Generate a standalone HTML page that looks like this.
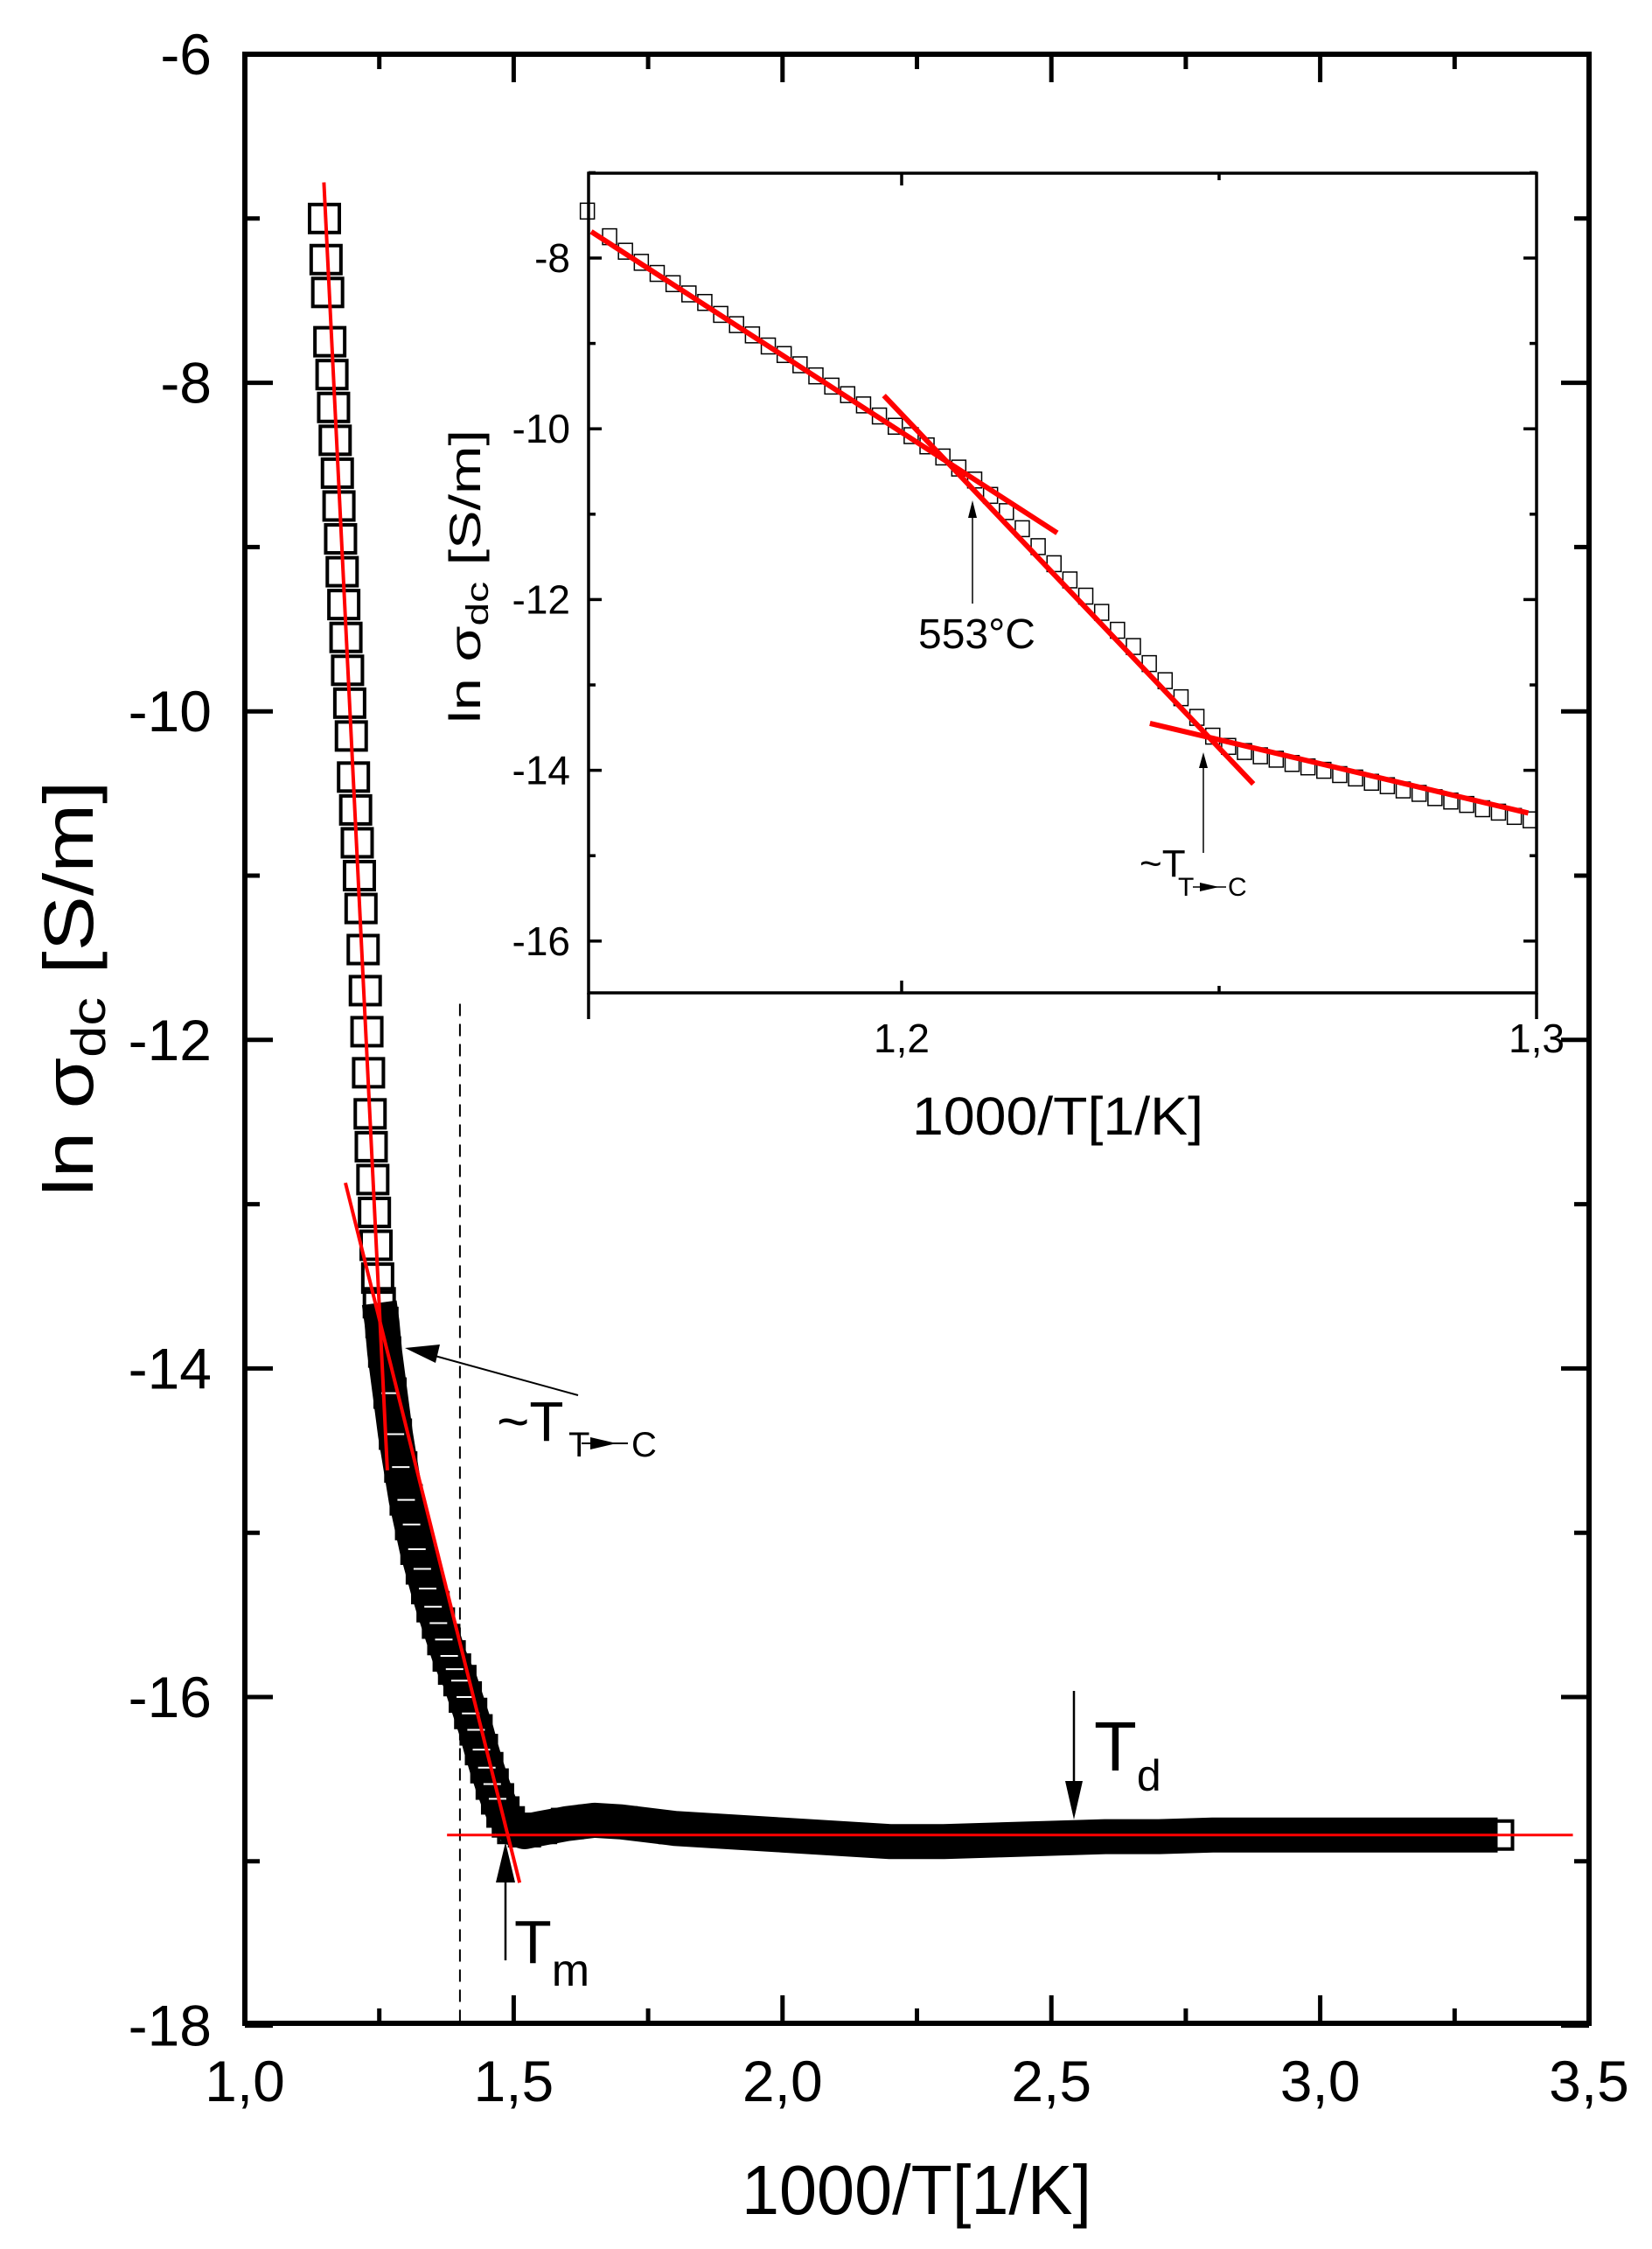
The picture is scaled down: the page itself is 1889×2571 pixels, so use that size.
<!DOCTYPE html>
<html><head><meta charset="utf-8"><style>
html,body{margin:0;padding:0;background:#fff}
svg{display:block;font-family:"Liberation Sans",Arial,sans-serif}
</style></head><body>
<svg id="chart" width="1889" height="2571" viewBox="0 0 1889 2571" xmlns="http://www.w3.org/2000/svg">
<rect width="1889" height="2571" fill="#fff"/>
<g id="main-marks"></g>
<g id="main-axes"></g>
<g id="inset"></g>
<g id="annot"></g>
</svg>
<script>
// ---- main chart data ----
const mainX = [1.148,1.151,1.154,1.158,1.162,1.165,1.168,1.172,1.175,1.178,1.181,1.184,1.188,1.191,1.195,1.198,1.202,1.206,1.209,1.213,1.216,1.220,1.224,1.227,1.230,1.233,1.235,1.238,1.241,1.244,1.247,1.250,
1.255,1.26,1.27,1.28,1.29,1.30,1.31,1.32,1.33,1.34,1.35,1.36,1.37,1.38,1.39,1.40,1.41,1.42,1.43,1.44,1.45,1.46,1.47,1.48,1.49,1.50,1.52,1.55,1.6,1.65,1.7,1.8,1.9,2.0,2.1,2.2,2.3,2.4,2.5,2.6,2.7,2.8,2.9,3.0,3.1,3.2,3.33];
const mainY = [-7.0,-7.25,-7.45,-7.75,-7.95,-8.15,-8.35,-8.55,-8.75,-8.95,-9.15,-9.35,-9.55,-9.75,-9.95,-10.15,-10.4,-10.6,-10.8,-11.0,-11.2,-11.45,-11.7,-11.95,-12.2,-12.45,-12.65,-12.85,-13.05,-13.25,-13.45,-13.6,
-13.72,-13.9,-14.15,-14.4,-14.6,-14.8,-14.95,-15.1,-15.22,-15.34,-15.45,-15.55,-15.65,-15.75,-15.83,-15.9,-16.0,-16.1,-16.2,-16.32,-16.43,-16.53,-16.62,-16.7,-16.76,-16.8,-16.82,-16.8,-16.77,-16.75,-16.76,-16.8,-16.82,-16.84,-16.86,-16.88,-16.88,-16.87,-16.86,-16.85,-16.85,-16.84,-16.84,-16.84,-16.84,-16.84,-16.84];
const denseFrom = 1.25;
const fitSteepX = [1.147,1.265], fitSteepY = [-6.78,-14.62];
const fitMidX = [1.187,1.511], fitMidY = [-12.87,-17.13];
const fitFlatX = [1.376,3.47], fitFlatY = [-16.84,-16.84];
const xTicks = [1.0,1.5,2.0,2.5,3.0,3.5];
const xTickLabels = ["1,0","1,5","2,0","2,5","3,0","3,5"];
const yTicks = [-6,-8,-10,-12,-14,-16,-18];
const yTickLabels = ["-6","-8","-10","-12","-14","-16","-18"];
// ---- inset data ----
const insX = [1.1505,1.1540,1.1565,1.1590,1.1615,1.1640,1.1665,1.1690,1.1715,1.1740,1.1765,1.1790,1.1815,1.1840,1.1865,1.1890,1.1915,1.1940,1.1965,1.1990,1.2015,1.2040,1.2065,1.2090,1.2115,1.2140,1.2165,1.2190,1.2215,1.2240,1.2265,1.2290,1.2315,1.2340,1.2365,1.2390,1.2415,1.2440,1.2465,1.2490,1.2515,1.2540,1.2565,1.2590,1.2615,1.2640,1.2665,1.2690,1.2715,1.2740,1.2765,1.2790,1.2815,1.2840,1.2865,1.2890,1.2915,1.2940,1.2965,1.2990];
const insY = [-7.45,-7.75,-7.92,-8.05,-8.18,-8.30,-8.42,-8.52,-8.66,-8.78,-8.90,-9.03,-9.13,-9.25,-9.38,-9.50,-9.60,-9.72,-9.85,-9.97,-10.08,-10.20,-10.33,-10.46,-10.60,-10.78,-10.97,-11.17,-11.38,-11.58,-11.77,-11.96,-12.15,-12.36,-12.55,-12.75,-12.95,-13.15,-13.38,-13.60,-13.72,-13.78,-13.83,-13.87,-13.92,-13.96,-14.00,-14.05,-14.09,-14.14,-14.18,-14.23,-14.27,-14.32,-14.36,-14.40,-14.45,-14.49,-14.54,-14.58];
const insFit1X = [1.1511,1.2245], insFit1Y = [-7.69,-11.22];
const insFit2X = [1.1972,1.2554], insFit2Y = [-9.61,-14.16];
const insFit3X = [1.2391,1.2987], insFit3Y = [-13.45,-14.5];
const insYTicks = [-8,-10,-12,-14,-16];
const insYTickLabels = ["-8","-10","-12","-14","-16"];
const insXTicks = [1.2,1.3];
const insXTickLabels = ["1,2","1,3"];

const NS="http://www.w3.org/2000/svg";
function mk(tag, attrs, parent){const e=document.createElementNS(NS,tag);for(const k in attrs)e.setAttribute(k,attrs[k]);parent.appendChild(e);return e;}
const X = x => 280 + 614.8*(x-1);
const Y = y => 62 + 187.8*(-6-y);
const IX = x => 1031 + 7260*(x-1.2);
const IY = y => 295 + 97.6*(-8-y);

const gm = document.getElementById('main-marks');
const ga = document.getElementById('main-axes');
const gi = document.getElementById('inset');
const gn = document.getElementById('annot');

let dl = mk('line',{x1:X(1.4),y1:Y(-11.78),x2:X(1.4),y2:2313,stroke:'#000','stroke-width':2,'stroke-dasharray':'14,9'},gm);



let pts=[];
for(let i=0;i<mainX.length;i++){ if(mainX[i]>=denseFrom) pts.push(X(mainX[i])+','+Y(mainY[i])); }
let band = mk('polyline',{points:pts.join(' '),fill:'none',stroke:'#000','stroke-width':40,'stroke-linejoin':'round'},gm);


for(let i=0;i<mainX.length;i++){
  const r = mk('rect',{x:X(mainX[i])-17,y:Y(mainY[i])-16,width:34,height:32,fill:'none',stroke:'#000','stroke-width':4},gm);
  
  
}
for(let i=0;i<mainX.length;i++){
  if(mainX[i]>=1.27 && mainX[i]<=1.47){
    const h = mk('line',{x1:X(mainX[i])-10,y1:Y(mainY[i]),x2:X(mainX[i])+10,y2:Y(mainY[i]),stroke:'#fff','stroke-width':2},gm);
    
    
  }
}
function fit(xs,ys,w,name,S,SY,par){
  const l = mk('line',{x1:S(xs[0]),y1:SY(ys[0]),x2:S(xs[1]),y2:SY(ys[1]),stroke:'#f00','stroke-width':w},par);
  
  
}
fit(fitSteepX,fitSteepY,4,'fit-line-steep',X,Y,gm);
fit(fitMidX,fitMidY,4,'fit-line-middle',X,Y,gm);
fit(fitFlatX,fitFlatY,3,'fit-line-flat',X,Y,gm);

let fr = mk('rect',{x:280,y:62,width:1537,height:2251,fill:'none',stroke:'#000','stroke-width':6},ga);


for(let v=1.0; v<=3.501; v+=0.25){
  const major = Math.abs(v*2-Math.round(v*2))<1e-6;
  const L = major?32:17;
  const t1 = mk('line',{x1:X(v),y1:2313,x2:X(v),y2:2313-L,stroke:'#000','stroke-width':5},ga);
  
  
  const t2 = mk('line',{x1:X(v),y1:62,x2:X(v),y2:62+L,stroke:'#000','stroke-width':5},ga);
  
  
}
for(let v=-6; v>=-18; v-=1){
  const L = (v%2===0)?32:17;
  const t1 = mk('line',{x1:280,y1:Y(v),x2:280+L,y2:Y(v),stroke:'#000','stroke-width':5},ga);
  
  
  const t2 = mk('line',{x1:1817,y1:Y(v),x2:1817-L,y2:Y(v),stroke:'#000','stroke-width':5},ga);
  
  
}
xTicks.forEach((v,i)=>{
  const t = mk('text',{x:X(v),y:2402,'font-size':66,'text-anchor':'middle'},ga);
  t.textContent = xTickLabels[i];
  
  
});
yTicks.forEach((v,i)=>{
  const t = mk('text',{x:242,y:Y(v)+23,'font-size':66,'text-anchor':'end'},ga);
  t.textContent = yTickLabels[i];
  
  
});

const ib = mk('rect',{x:673,y:198,width:1084,height:937,fill:'#fff',stroke:'none'},gi);


for(let i=0;i<insX.length;i++){
  const r = mk('rect',{x:IX(insX[i])-8,y:IY(insY[i])-9,width:16,height:18,fill:'none',stroke:'#000','stroke-width':1.5},gi);
  
  
}
fit(insFit1X,insFit1Y,6,'inset-fit-line-1',IX,IY,gi);
fit(insFit2X,insFit2Y,6,'inset-fit-line-2',IX,IY,gi);
fit(insFit3X,insFit3Y,6,'inset-fit-line-3',IX,IY,gi);
const ifr = mk('rect',{x:673,y:198,width:1084,height:937,fill:'none',stroke:'#000','stroke-width':3.5},gi);


for(let v=-7; v>=-16; v-=1){
  const L = (v%2===0)?15:8;
  const a = mk('line',{x1:673,y1:IY(v),x2:673+L,y2:IY(v),stroke:'#000','stroke-width':3.5},gi);
  
  
  const b = mk('line',{x1:1757,y1:IY(v),x2:1757-L,y2:IY(v),stroke:'#000','stroke-width':3.5},gi);
  
  
}
[1.2,1.25].forEach((v,i)=>{
  const L = i===0?14:8;
  const a = mk('line',{x1:IX(v),y1:1135,x2:IX(v),y2:1135-L,stroke:'#000','stroke-width':3.5},gi);
  
  
  const b = mk('line',{x1:IX(v),y1:198,x2:IX(v),y2:198+L,stroke:'#000','stroke-width':3.5},gi);
  
  
});
[673,1757].forEach(px=>{
  const a = mk('line',{x1:px,y1:1135,x2:px,y2:1165,stroke:'#000','stroke-width':3.5},gi);
  
  
});
insYTicks.forEach((v,i)=>{
  const t = mk('text',{x:652,y:IY(v)+16,'font-size':46,'text-anchor':'end'},gi);
  t.textContent = insYTickLabels[i];
  
  
});
insXTicks.forEach((v,i)=>{
  const t = mk('text',{x:IX(v),y:1203,'font-size':46,'text-anchor':'middle'},gi);
  t.textContent = insXTickLabels[i];
  
  
});
</script>
<script>
(function(){
const g=document.getElementById('annot');
g.innerHTML = `
<text transform="translate(106,1130) rotate(-90)" font-size="80" text-anchor="middle" textLength="475" lengthAdjust="spacingAndGlyphs">ln σ<tspan font-size="55" dy="14">dc</tspan><tspan dy="-14"> [S/m]</tspan></text>
<text x="848" y="2531" font-size="80" textLength="400" lengthAdjust="spacingAndGlyphs">1000/T[1/K]</text>
<text transform="translate(549,659) rotate(-90)" font-size="50" text-anchor="middle" textLength="336" lengthAdjust="spacingAndGlyphs">ln σ<tspan font-size="36" dy="9">dc</tspan><tspan dy="-9"> [S/m]</tspan></text>
<text x="1043" y="1297" font-size="61" textLength="333" lengthAdjust="spacingAndGlyphs">1000/T[1/K]</text>
<g>
<line x1="661" y1="1595" x2="490" y2="1548" stroke="#000" stroke-width="2"/>
<polygon points="463,1541 503,1537 498,1558" fill="#000"/>
</g>
<text x="568" y="1647" font-size="64">~T</text>
<text x="650" y="1665" font-size="40">T</text>
<g><line x1="665" y1="1650" x2="718" y2="1650" stroke="#000" stroke-width="2"/><polygon points="675,1643 705,1650 675,1657" fill="#000"/></g>
<text x="722" y="1665" font-size="40">C</text>
<g>
<line x1="578" y1="2241" x2="578" y2="2140" stroke="#000" stroke-width="2.5"/>
<polygon points="578,2106 567,2152 589,2152" fill="#000"/>
</g>
<text x="588" y="2244" font-size="70">T<tspan font-size="52" dy="26">m</tspan></text>
<g>
<line x1="1228" y1="1933" x2="1228" y2="2040" stroke="#000" stroke-width="2.5"/>
<polygon points="1228,2080 1218,2036 1238,2036" fill="#000"/>
</g>
<text x="1251" y="2024" font-size="80">T<tspan font-size="50" dy="23">d</tspan></text>
<g>
<line x1="1112" y1="690" x2="1112" y2="590" stroke="#000" stroke-width="1.5"/>
<polygon points="1112,572 1107,592 1117,592" fill="#000"/>
</g>
<text x="1050" y="741" font-size="48">553°C</text>
<g>
<line x1="1376" y1="975" x2="1376" y2="875" stroke="#000" stroke-width="1.5"/>
<polygon points="1376,860 1371,878 1381,878" fill="#000"/>
</g>
<text x="1303" y="1002" font-size="44">~T</text>
<text x="1347" y="1024" font-size="30">T</text>
<g><line x1="1364" y1="1014" x2="1402" y2="1014" stroke="#000" stroke-width="1.5"/><polygon points="1372,1009 1394,1014 1372,1019" fill="#000"/></g>
<text x="1404" y="1024" font-size="30">C</text>
`;
})();
</script>
</body></html>
